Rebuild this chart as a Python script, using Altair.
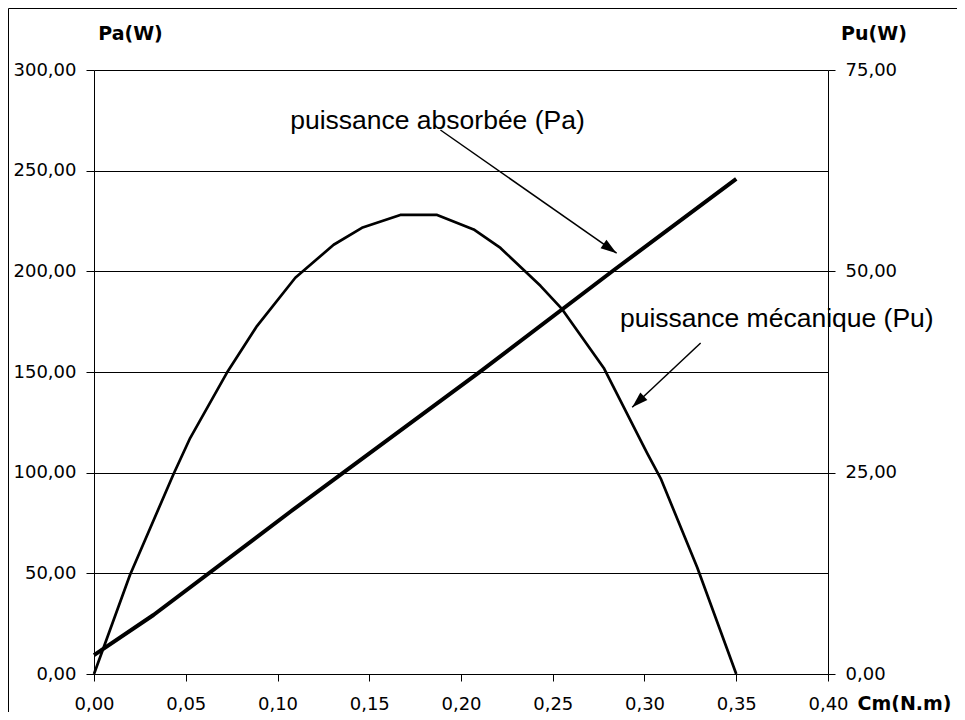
import altair as alt
import pandas as pd

# ---- data ----
cm_pa = [0.0, 0.0324, 0.107, 0.211, 0.283, 0.35]
pa = [9.4, 29.3, 80.6, 150.6, 200.4, 245.9]

cm_pu = [0.0, 0.0196, 0.0433, 0.0524, 0.0724, 0.0888, 0.1097, 0.1306, 0.146, 0.1669,
         0.187, 0.2069, 0.2215, 0.2433, 0.2551, 0.2778, 0.3015, 0.3088, 0.3288, 0.35]
pu = [0.0, 12.3, 24.8, 29.3, 37.4, 43.2, 49.2, 53.3, 55.4, 57.0,
      57.0, 55.2, 52.9, 48.2, 45.3, 38.0, 27.4, 24.3, 13.2, 0.0]

x_ticks = [0.0, 0.05, 0.10, 0.15, 0.20, 0.25, 0.30, 0.35, 0.40]
pa_ticks = [0, 50, 100, 150, 200, 250, 300]
pu_ticks = [0, 25, 50, 75]

ann_text = ["puissance absorbée (Pa)", "puissance mécanique (Pu)"]
ann_x = [0.1069, 0.2866]
ann_y = [270.5, 172.5]

arr_x1 = [0.1888, 0.3306]
arr_y1 = [270.2, 164.4]
arr_x2 = [0.2848, 0.2933]
arr_y2 = [209.0, 132.5]
arr_angle = [125, 226.7]

LBL = "replace(format(datum.value, '.2f'), '.', ',')"
W, H = 734, 604

df_pa = pd.DataFrame({"cm": cm_pa, "pa": pa})
df_pu = pd.DataFrame({"cm": cm_pu, "pu": pu})
df_ann = pd.DataFrame({"t": ann_text, "x": ann_x, "y": ann_y})
df_arr = pd.DataFrame({"x1": arr_x1, "y1": arr_y1, "x2": arr_x2, "y2": arr_y2, "ang": arr_angle})
df_one = pd.DataFrame({"k": [0]})

xscale = alt.Scale(domain=[0, 0.4], nice=False, zero=False)
pascale = alt.Scale(domain=[0, 300], nice=False, zero=False)
puscale = alt.Scale(domain=[0, 75], nice=False, zero=False)

frame = alt.Chart(df_one).mark_rect(fillOpacity=0, stroke="black", strokeWidth=1).encode(
    x=alt.value(-85.5), x2=alt.value(W + 300), y=alt.value(-61.5), y2=alt.value(H + 300)
)

pa_line = alt.Chart(df_pa).mark_line(color="black", strokeWidth=4, strokeJoin="round").encode(
    x=alt.X("cm:Q", scale=xscale, axis=alt.Axis(
        values=x_ticks, labelExpr=LBL, grid=False, tickSize=7, labelPadding=14,
        labelFlush=False, labelOverlap=False,
        title="Cm(N.m)", titleAngle=0, titleX=763, titleY=35, titleAlign="left",
        titleBaseline="alphabetic")),
    y=alt.Y("pa:Q", scale=pascale, axis=alt.Axis(
        values=pa_ticks, labelExpr=LBL, grid=True, gridColor="black", gridWidth=1,
        tickSize=8, labelPadding=10, labelFlush=False, labelOverlap=False,
        title="Pa(W)", titleAngle=0, titleX=36, titleY=-31, titleAlign="center",
        titleBaseline="alphabetic")),
)

arrows = alt.Chart(df_arr).mark_rule(color="black", strokeWidth=1.5).encode(
    x="x1:Q", y="y1:Q", x2="x2:Q", y2="y2:Q"
)

heads = alt.Chart(df_arr).mark_point(
    shape="M0,0 L0.32,1 L-0.32,1 Z", filled=True, size=1024, color="black", opacity=1, strokeWidth=0
).encode(
    x="x2:Q", y="y2:Q", angle=alt.Angle("ang:Q", scale=None)
)

texts = alt.Chart(df_ann).mark_text(
    align="left", baseline="alphabetic", font="Liberation Sans", fontSize=26.5, color="black"
).encode(x="x:Q", y="y:Q", text="t:N")

inner = alt.layer(frame, pa_line, arrows, heads, texts)

pu_line = alt.Chart(df_pu).mark_line(color="black", strokeWidth=2.7, strokeJoin="round").encode(
    x=alt.X("cm:Q", scale=xscale),
    y=alt.Y("pu:Q", scale=puscale, axis=alt.Axis(
        orient="right", values=pu_ticks, labelExpr=LBL, grid=False,
        tickSize=7, labelPadding=10, labelFlush=False, labelOverlap=False,
        title="Pu(W)", titleAngle=0, titleX=45.5, titleY=-31, titleAlign="center",
        titleBaseline="alphabetic")),
)

chart = alt.layer(inner, pu_line).resolve_scale(y="independent").properties(
    width=W, height=H,
    autosize=alt.AutoSizeParams(type="none"),
    padding={"left": 86, "top": 62, "right": 129, "bottom": 38},
    background="white",
).configure_view(strokeWidth=0).configure_axis(
    labelFont="DejaVu Sans", labelFontSize=18, labelColor="black",
    titleFont="DejaVu Sans", titleFontSize=19, titleFontWeight="bold", titleColor="black",
    domainColor="black", tickColor="black", domainWidth=1, tickWidth=1,
)

chart.save("out.html", embed_options={"renderer": "svg", "actions": False})
